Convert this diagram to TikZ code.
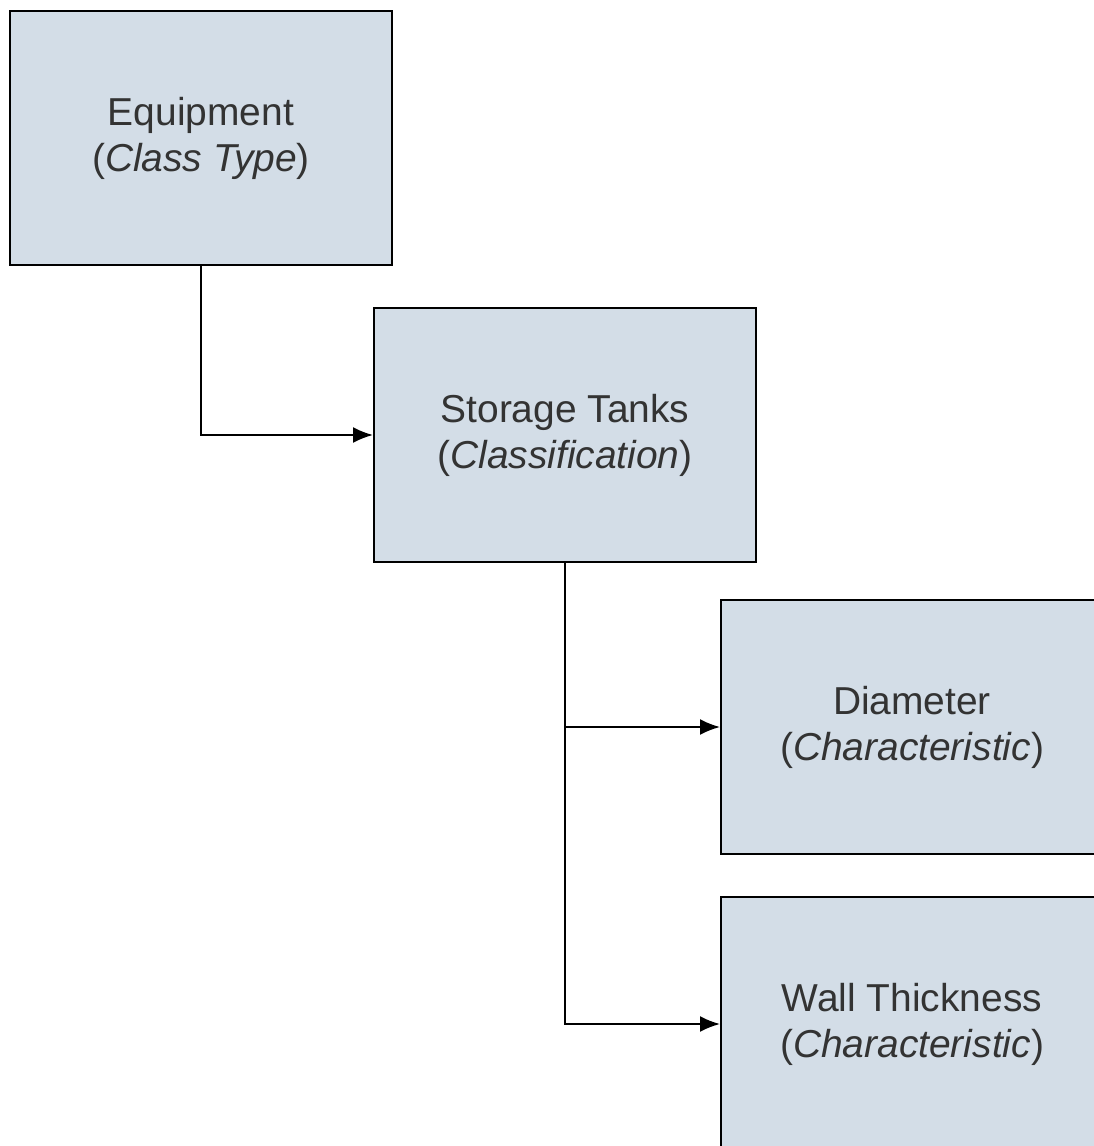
\documentclass[tikz,border=0pt]{standalone}
\usepackage{fontspec}
\setmainfont{Liberation Sans}
\usetikzlibrary{arrows.meta}
\definecolor{boxfill}{HTML}{D3DDE7}
\definecolor{txt}{HTML}{333333}
\tikzset{
  box/.style={draw=black, line width=1.5pt, fill=boxfill, minimum width=286.5pt, minimum height=190.5pt, inner sep=0pt, align=center, text=txt, font=\fontsize{29.2}{34.5}\selectfont},
  conn/.style={draw=black, line width=1.5pt, -{Latex[length=15pt,width=12pt]}},
}
\begin{document}
\begin{tikzpicture}[x=0.75pt,y=-0.75pt]
\useasboundingbox (0,0) rectangle (1093,1146);
\fill[white] (0,0) rectangle (1093,1146);
\node[box] (eq) at (201,138) {Equipment\\(\textit{Class Type})};
\node[box] (st) at (565,435) {Storage Tanks\\(\textit{Classification})};
\node[box] (di) at (912,727) {Diameter\\(\textit{Characteristic})};
\node[box] (wt) at (912,1024) {Wall Thickness\\(\textit{Characteristic})};
\draw[conn] (eq.south) |- (st.west);
\draw[conn] (st.south) |- (di.west);
\draw[conn] (st.south) |- (wt.west);
\end{tikzpicture}
\end{document}
